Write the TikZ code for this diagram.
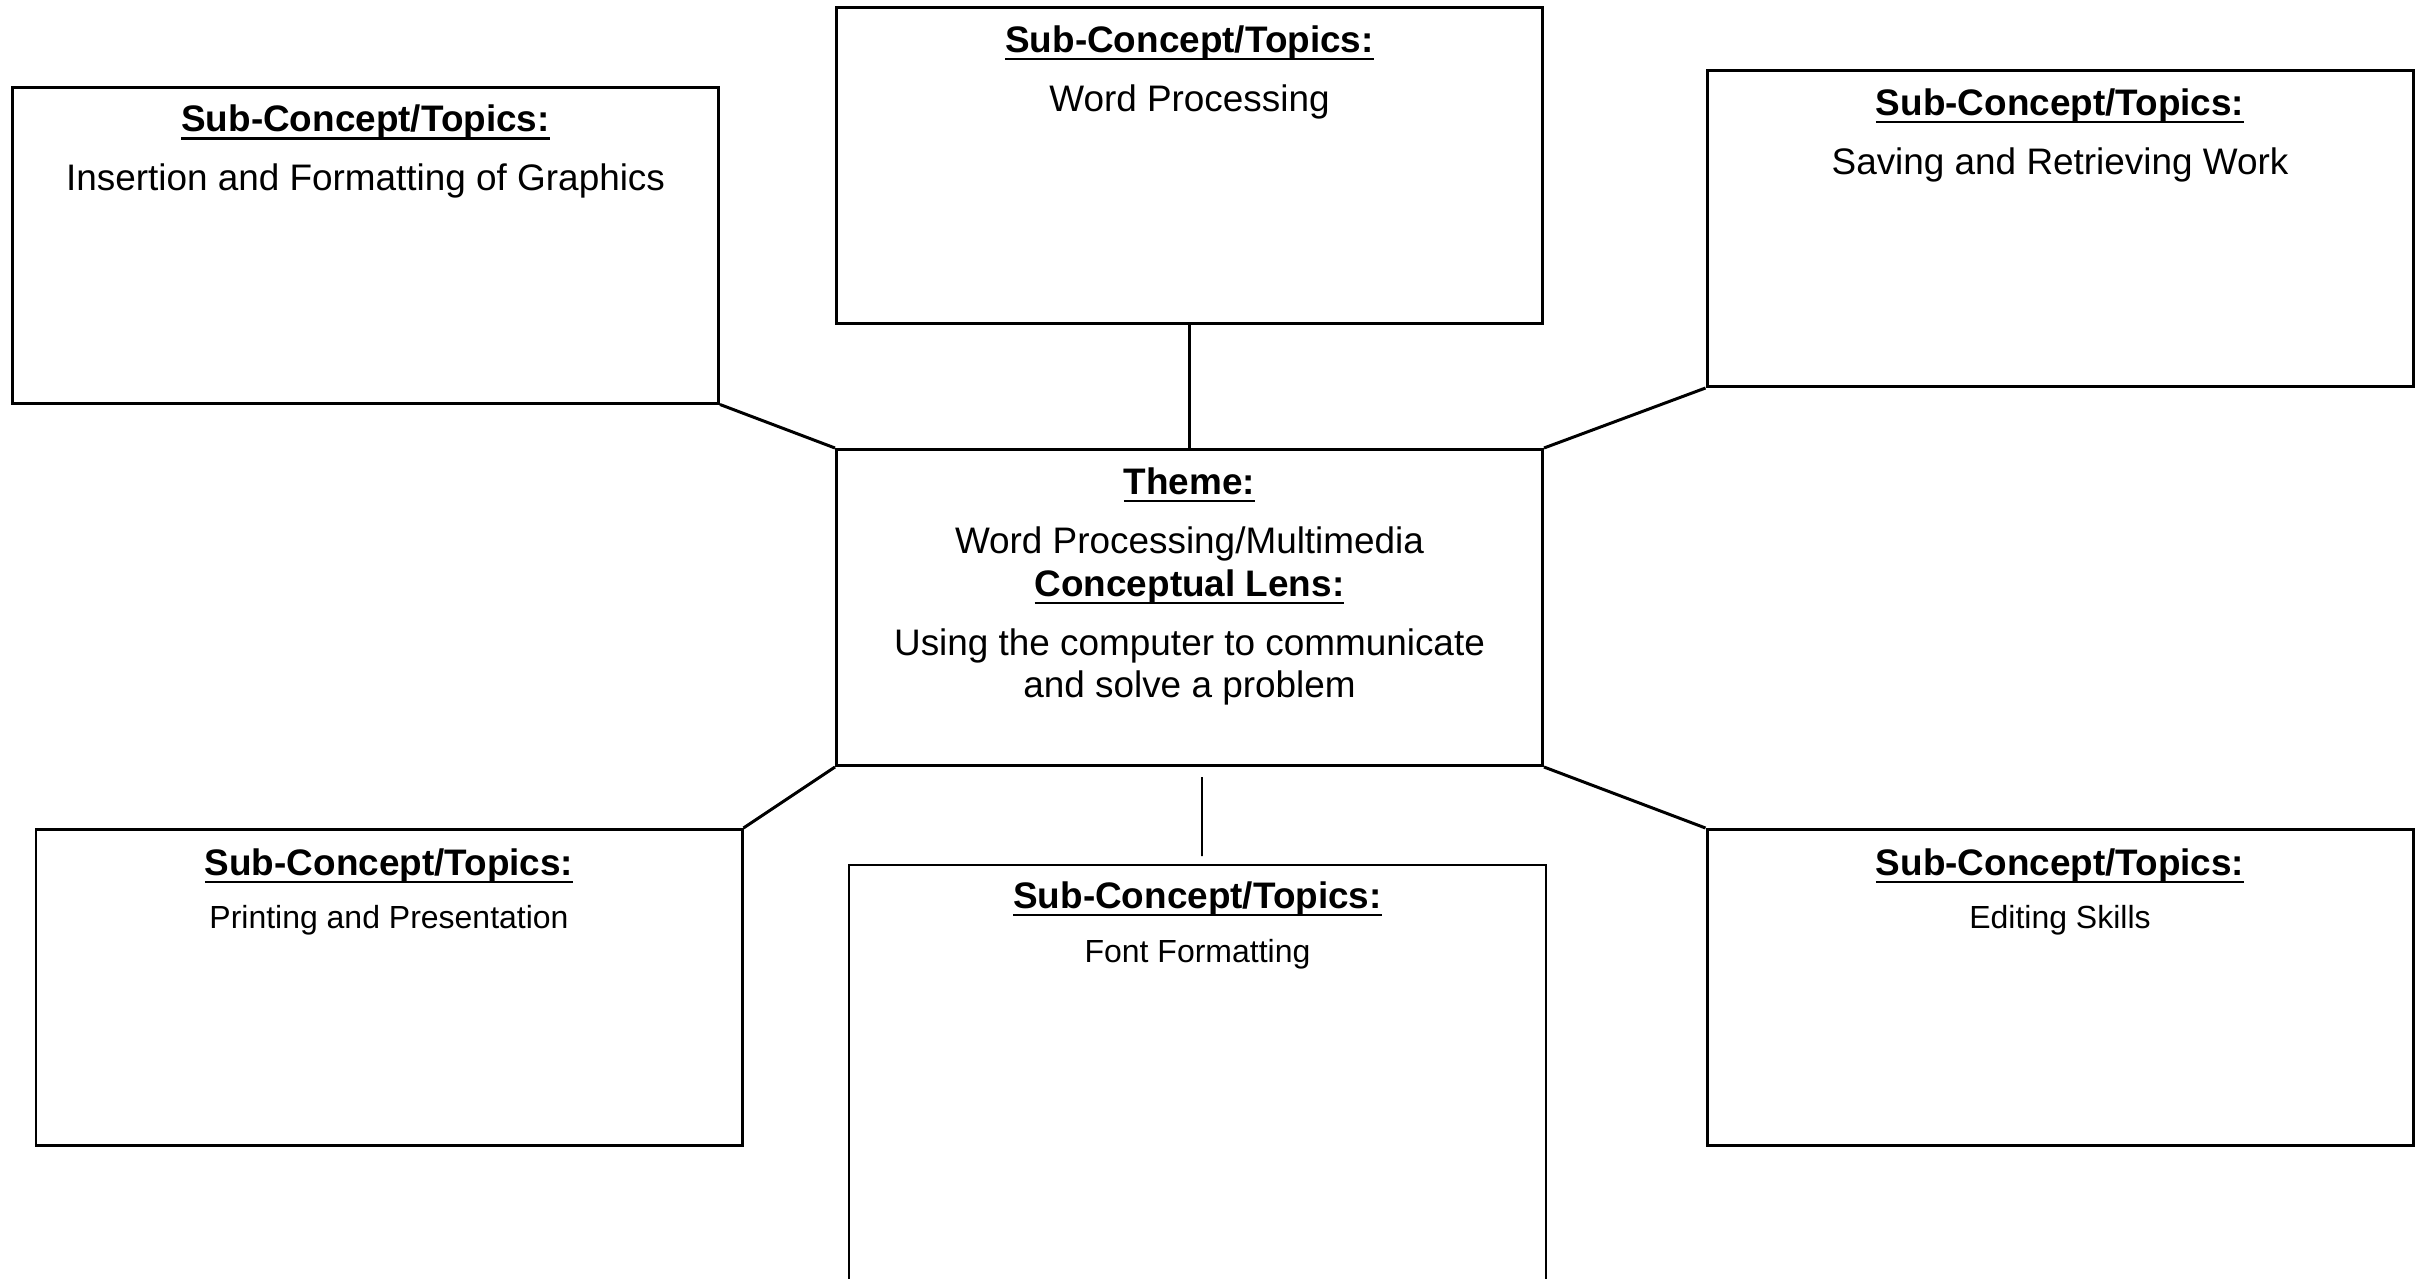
\documentclass[tikz,border=0pt]{standalone}
\usepackage{fontspec}
\setmainfont{Liberation Sans}
\usepackage{tikz}
\usetikzlibrary{positioning}

\newcommand{\ulhead}[1]{\setbox0\hbox{#1}\rlap{\rule[-2.4pt]{\wd0}{0.8pt}}\box0}

\begin{document}
\begin{tikzpicture}[
    box/.style={rectangle, draw, line width=0.85pt, minimum width=7.06cm, minimum height=3.16cm, inner sep=0pt},
    thinbox/.style={rectangle, draw, line width=0.55pt, minimum width=6.97cm, minimum height=4.35cm, inner sep=0pt},
    head/.style={anchor=base, inner sep=0pt, font=\fontsize{10.5}{12.6}\selectfont\bfseries},
    topic/.style={anchor=base, inner sep=0pt, align=center, font=\fontsize{10.5}{11.8}\selectfont},
    smalltopic/.style={anchor=base, inner sep=0pt, font=\fontsize{9.1}{11}\selectfont},
    link/.style={line width=0.85pt},
    thinlink/.style={line width=0.45pt}
]
\useasboundingbox (0,0) rectangle (24.24,-12.78);

% boxes
\node[box] (theme) at (11.895,-6.075) {};
\node[box] (gfx) at (3.655,-2.45) {};
\node[box] (wp) at (11.895,-1.655) {};
\node[box] (save) at (20.60,-2.285) {};
\node[box] (print) at (3.89,-9.875) {};
\node[thinbox] (font) at (11.975,-10.825) {};
\node[box] (edit) at (20.60,-9.875) {};

% texts
\node[head] (theme-h) at ([yshift=-0.46cm]theme.north) {\ulhead{Theme:}};
\node[topic] (theme-x) at ([yshift=-1.05cm]theme.north) {Word Processing/Multimedia};
\node[head] (lens-h) at ([yshift=-1.48cm]theme.north) {\ulhead{Conceptual Lens:}};
\node[topic] (lens-x) at ([yshift=-2.49cm]theme.north) {Using the computer to communicate\\and solve a problem};

\node[head] (gfx-h) at ([yshift=-0.46cm]gfx.north) {\ulhead{Sub-Concept/Topics:}};
\node[topic] (gfx-x) at ([yshift=-1.05cm]gfx.north) {Insertion and Formatting of Graphics};

\node[head] (wp-h) at ([yshift=-0.46cm]wp.north) {\ulhead{Sub-Concept/Topics:}};
\node[topic] (wp-x) at ([yshift=-1.05cm]wp.north) {Word Processing};

\node[head] (save-h) at ([yshift=-0.46cm]save.north) {\ulhead{Sub-Concept/Topics:}};
\node[topic] (save-x) at ([yshift=-1.05cm]save.north) {Saving and Retrieving Work};

\node[head] (print-h) at ([yshift=-0.47cm]print.north) {\ulhead{Sub-Concept/Topics:}};
\node[smalltopic] (print-x) at ([yshift=-1.0cm]print.north) {Printing and Presentation};

\node[head] (font-h) at ([yshift=-0.44cm]font.north) {\ulhead{Sub-Concept/Topics:}};
\node[smalltopic] (font-x) at ([yshift=-0.98cm]font.north) {Font Formatting};

\node[head] (edit-h) at ([yshift=-0.47cm]edit.north) {\ulhead{Sub-Concept/Topics:}};
\node[smalltopic] (edit-x) at ([yshift=-1.0cm]edit.north) {Editing Skills};

% connectors
\draw[link] (gfx.south east) -- (theme.north west);
\draw[link] (wp.south) -- (theme.north);
\draw[link] (save.south west) -- (theme.north east);
\draw[link] (theme.south west) -- (print.north east);
\draw[link] (theme.south east) -- (edit.north west);

\coordinate (tick-a) at ([xshift=1.25mm,yshift=-1mm]theme.south);
\coordinate (tick-b) at ([xshift=0.45mm,yshift=0.8mm]font.north);
\draw[thinlink] (tick-a) -- (tick-b);
\end{tikzpicture}
\end{document}
